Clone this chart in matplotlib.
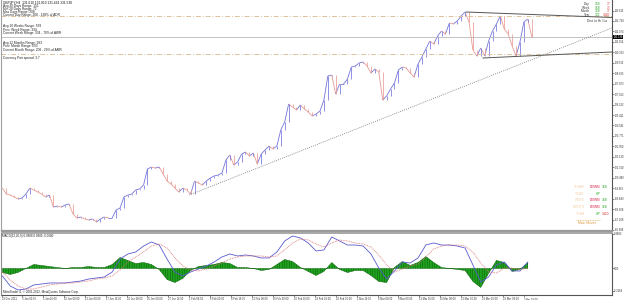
import matplotlib
matplotlib.use("Agg")
import matplotlib.pyplot as plt
import numpy as np
from matplotlib.collections import LineCollection

plt.rcParams['font.family'] = ['Liberation Sans', 'DejaVu Sans']
plt.rcParams['hatch.linewidth'] = 0.35

W, H = 625, 300

# ---------------- data ----------------
header = "GBPJPY,H4  131.610 131.810 131.494 131.538"
first_bar = -15      # bar index of first sample (H4 bars, 0 = 3 Jan 00:00)
bar_step = 3         # bars between price samples
closes = [119.68, 119.21, 119.13, 118.98, 118.82, 118.90, 119.21, 119.68, 119.53, 119.37,
          119.21, 118.98, 119.13, 118.19, 118.27, 118.19, 118.35, 118.43, 117.64, 117.33,
          117.41, 117.25, 117.17, 117.25, 117.02, 117.25, 117.41, 117.33, 117.33, 117.96,
          118.11, 118.98, 119.13, 119.21, 119.53, 119.61, 119.92, 121.18, 121.33, 121.25,
          121.33, 120.78, 120.23, 120.00, 119.68, 119.37, 119.68, 119.53, 119.21, 120.23,
          120.08, 119.92, 120.23, 120.47, 120.63, 120.70, 120.86, 121.88, 122.27, 121.49,
          121.73, 122.35, 122.51, 122.20, 122.43, 121.57, 122.35, 122.67, 122.98, 122.75,
          122.98, 124.24, 124.87, 126.28, 126.04, 125.81, 126.20, 125.89, 125.65, 125.34,
          125.49, 125.73, 126.59, 128.48, 128.55, 127.06, 127.85, 127.85, 128.24, 129.18,
          129.26, 129.50, 129.58, 129.26, 128.71, 129.03, 128.79, 126.59, 126.91, 127.46,
          127.93, 128.95, 129.18, 129.10, 128.71, 128.40, 129.42, 129.97, 130.60, 131.22,
          130.99, 131.62, 132.01, 131.77, 132.64, 132.56, 132.79, 133.19, 133.50, 132.72,
          130.52, 130.05, 130.67, 130.05, 131.22, 132.01, 132.56, 133.19, 132.17, 131.77,
          130.83, 130.05, 131.15, 132.72, 132.95, 131.54]
bid = 131.538

macd_step = 6
macd_main = [-0.106, -0.248, -0.304, -0.290, -0.233, -0.219, -0.205, -0.205, -0.205, -0.191,
             -0.177, -0.149, -0.134, -0.120, -0.050, 0.134, 0.205, 0.233, 0.318, 0.375,
             0.332, 0.134, -0.050, -0.106, -0.050, -0.007, 0.035, 0.092, 0.163, 0.205,
             0.177, 0.191, 0.177, 0.149, 0.149, 0.233, 0.389, 0.460, 0.432, 0.361,
             0.248, 0.262, 0.446, 0.389, 0.332, 0.332, 0.318, 0.205, 0.007, -0.149,
             -0.035, 0.092, 0.078, 0.149, 0.332, 0.361, 0.332, 0.332, 0.318, 0.290,
             0.050, -0.191, -0.120, 0.050, 0.092, -0.035, -0.035, 0.092]
macd_signal = [-0.050, -0.163, -0.248, -0.290, -0.290, -0.262, -0.233, -0.219, -0.205, -0.205,
               -0.191, -0.177, -0.149, -0.134, -0.106, -0.021, 0.092, 0.163, 0.233, 0.318,
               0.347, 0.290, 0.149, 0.035, -0.021, -0.035, -0.007, 0.035, 0.078, 0.134,
               0.163, 0.177, 0.177, 0.177, 0.163, 0.177, 0.262, 0.361, 0.417, 0.403,
               0.347, 0.304, 0.361, 0.403, 0.389, 0.361, 0.347, 0.304, 0.191, 0.050,
               -0.050, -0.007, 0.035, 0.064, 0.163, 0.276, 0.318, 0.332, 0.332, 0.318,
               0.233, 0.078, -0.050, -0.064, 0.007, 0.007, -0.021, 0.007]

support_line = [(127.8, 119.13), (451.4, 132.25)]
upper_line = [(339.7, 133.50), (451.4, 133.07)]
lower_line = [(352.7, 129.89), (451.4, 130.36)]
day_levels = [133.19, 130.19]

time_ticks = [-15.5, 0, 16, 32, 48, 64, 80, 96, 112, 128, 144, 160, 176, 192, 208, 224,
              240, 256, 272, 288, 304, 320, 336, 352, 368, 384]
time_labels = ["29 Dec 2011", "3 Jan 00:00", "5 Jan 16:00", "10 Jan 08:00", "13 Jan 00:00",
               "17 Jan 16:00", "20 Jan 08:00", "25 Jan 00:00", "27 Jan 16:00", "1 Feb 08:00",
               "6 Feb 00:00", "8 Feb 16:00", "13 Feb 08:00", "16 Feb 00:00", "20 Feb 16:00",
               "23 Feb 08:00", "28 Feb 00:00", "1 Mar 16:00", "6 Mar 08:00", "9 Mar 00:00",
               "13 Mar 16:00", "16 Mar 08:00", "21 Mar 00:00", "23 Mar 16:00", "28 Mar 08:00",
               "2 Apr 00:00"]
price_ticks = [116.388, 117.208, 118.028, 118.849, 119.669, 120.489, 121.310, 122.130,
               122.950, 123.771, 124.591, 125.411, 126.232, 127.052, 127.872, 128.693,
               129.513, 130.333, 131.154, 131.974, 132.794, 133.615]
macd_ticks = [0.4883, 0.0, -0.3184]
macd_tick_labels = ["0.4883", "0.00", "-0.3184"]

info_lines = [("Avg 20 Days Range: 151", 6), ("Min 20 Days Range: 72", 9),
              ("Max Days Range: 208", 12), ("Current Day Range: 208 - 138% of ADR", 15),
              ("Avg 10 Weeks Range: 593", 26), ("Prev. Week Range: 334", 29.5),
              ("Current Week Range: 334 - 70% of AWR", 33),
              ("Avg 12 Months Range: 993", 43), ("Prev. Month Range: 693", 46),
              ("Current Month Range: 208 - 29% of AMR", 49.5),
              ("Currency Pair spread: 3.7", 58)]
range_rows = [("Day", "158", "37"), ("Week", "158", "37"), ("Month", "158", "37"),
              ("Year", "122", "1420")]
moves_rows = [("TODAY", "DOWN", "168"), ("T-DAY", "UP", ""), ("WEEK", "DOWN", "168"),
              ("MONTH", "DOWN", "168"), ("YEAR", "UP", "1420")]

# ---------------- figure ----------------
fig = plt.figure(figsize=(W / 100, H / 100), dpi=100)
fig.patch.set_facecolor("white")


def fx(px):
    return px / W


def fy(py):
    return 1 - py / H


X0, X1 = 1.5, 612.0
ax = fig.add_axes([fx(X0), fy(231), fx(X1) - fx(X0), fy(0) - fy(231)])
mx = fig.add_axes([fx(X0), fy(295), fx(X1) - fx(X0), fy(233) - fy(295)])

xlim = ((X0 - 22) / 1.307, (X1 - 22) / 1.307)
for a in (ax, mx):
    a.set_xlim(*xlim)
    a.set_facecolor("white")
    for s in a.spines.values():
        s.set_color("#8c8c8c")
        s.set_linewidth(0.8)
    a.spines["top"].set_visible(False)

ax.set_ylim(116.309, 134.4425)
mx.set_ylim(-0.375, 0.502)

# price bars as direction-coloured path
xs = first_bar + bar_step * np.arange(len(closes))
cl = np.array(closes)
segs = [[(xs[i - 1], cl[i - 1]), (xs[i], cl[i])] for i in range(1, len(cl))]
cols = ["#7474dc" if cl[i] >= cl[i - 1] else "#e99a94" for i in range(1, len(cl))]
ax.add_collection(LineCollection(segs, colors=cols, linewidths=0.6))
ax.vlines(xs[1:], np.minimum(cl[1:], cl[:-1]), np.maximum(cl[1:], cl[:-1]),
          colors=cols, linewidths=0.55)

# levels and trend lines
ax.axhline(bid, color="#b8b8b8", lw=0.6)
for lv in day_levels:
    ax.axhline(lv, color="#dcc29e", lw=0.7, ls=(0, (5, 2, 1, 2)))
(sx0, sy0), (sx1, sy1) = support_line
ax.plot([sx0, sx1], [sy0, sy1], color="#707070", lw=0.6, ls=(0, (1, 1.5)))
for (a0, b0), (a1, b1) in (upper_line, lower_line):
    ax.plot([a0, a1], [b0, b1], color="#555555", lw=0.7)

# price axis
ax.yaxis.tick_right()
ax.set_yticks(price_ticks)
ax.set_yticklabels([f"{p:.3f}" for p in price_ticks])
ax.tick_params(axis="y", length=1.2, width=0.4, pad=0.5, labelsize=1.9, colors="#333333")
ax.set_xticks([])
ax.spines["left"].set_color("#a0a0a0")
ax.spines["bottom"].set_color("#9a9a9a")
ax.spines["bottom"].set_linewidth(1.6)
ax.annotate(f"{bid:.3f}", xy=(1.0, bid), xycoords=("axes fraction", "data"),
            xytext=(1.0, 0), textcoords="offset points", fontsize=1.9, color="white",
            va="center", ha="left",
            bbox=dict(boxstyle="square,pad=0.15", fc="black", ec="black", lw=0))

# MACD panel
mxs = first_bar + macd_step * np.arange(len(macd_main))
mm = np.array(macd_main)
ms = np.array(macd_signal)
hist = mm - ms
mx.fill_between(mxs, 0, hist, facecolor="#1fa31f", edgecolor="#0b5a0b", hatch="|||||||",
                lw=0.3)
mx.plot(mxs, mm, color="#5a5ad0", lw=0.6)
mx.plot(mxs, ms, color="#d87070", lw=0.6, ls=(0, (1, 1)))
mx.yaxis.tick_right()
mx.set_yticks(macd_ticks)
mx.set_yticklabels(macd_tick_labels)
mx.tick_params(axis="y", length=1.2, width=0.4, pad=0.5, labelsize=1.9, colors="#333333")
mx.set_xticks(time_ticks)
mx.set_xticklabels(time_labels)
mx.tick_params(axis="x", length=1.2, width=0.4, pad=0.6, labelsize=1.9, colors="#333333")
for lab in mx.get_xticklabels():
    lab.set_horizontalalignment("left")
mx.spines["top"].set_visible(True)
mx.spines["top"].set_color("#9a9a9a")
mx.spines["top"].set_linewidth(1.2)
mx.spines["bottom"].set_color("#555555")
mx.spines["right"].set_color("#555555")
ax.spines["right"].set_color("#555555")

fig.text(fx(2.5), fy(235.5), "MACD(12,26,9) 0.0808 0.0889 -0.0080", fontsize=2.2,
         color="#222222", va="center", ha="left")
fig.text(fx(3), fy(291.5), "MetaTrader 4, \u00a9 2001-2012, MetaQuotes Software Corp.",
         fontsize=2.2, color="#222222", va="center", ha="left")

# info text top-left
fig.text(fx(3), fy(2.8), header, fontsize=2.3, color="#111111", va="center", ha="left")
for txt, y in info_lines:
    fig.text(fx(3), fy(y), txt, fontsize=2.3, color="#222222", va="center", ha="left")

# range block top-right
for j, (lab, g, r) in enumerate(range_rows):
    y = 4 + 3.7 * j
    fig.text(fx(590), fy(y), lab, fontsize=2.3, color="#333333", va="center", ha="right")
    fig.text(fx(595), fy(y), g, fontsize=2.3, color="#22a022", va="center", ha="left")
    fig.text(fx(610), fy(y), r, fontsize=2.3, color="#d83030", va="center", ha="right")
fig.text(fx(597), fy(21.5), "Dist. to Hi / Lo", fontsize=2.3, color="#333333",
         va="center", ha="center")

# main moves block bottom-right
for j, (lab, d, n) in enumerate(moves_rows):
    y = 187 + 6.7 * j
    fig.text(fx(585), fy(y), lab, fontsize=2.4, color="#f2cfa8", va="center", ha="right")
    fig.text(fx(600), fy(y), d, fontsize=2.4,
             color="#d02040" if d == "DOWN" else "#22b022", va="center", ha="right")
    if n:
        fig.text(fx(601.5), fy(y), n, fontsize=2.4,
                 color="#22a022" if n != "1420" else "#d83030", va="center", ha="left")
fig.add_artist(plt.Line2D([fx(576), fx(600)], [fy(220), fy(220)], color="#e0a850",
                          lw=0.4, ls=(0, (2, 1))))
fig.text(fx(587.5), fy(223.5), "Main Moves", fontsize=2.4, color="#e09a3a", va="center",
         ha="center")

fig.savefig("out.png", dpi=100, facecolor="white")
